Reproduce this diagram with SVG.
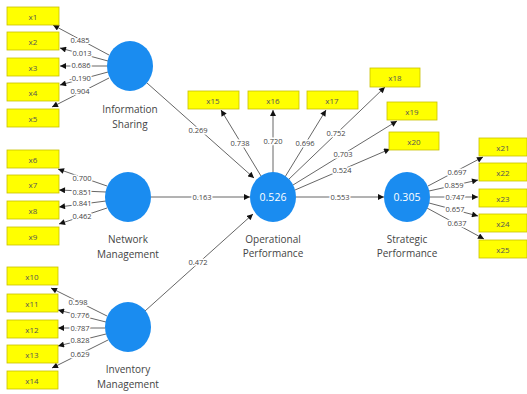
<svg xmlns="http://www.w3.org/2000/svg" width="527" height="394" viewBox="0 0 527 394">
<defs>
<style>
.box{fill:#ffff00;stroke:#c8c000;stroke-width:0.8}
.bt{font-family:"Open Sans","Noto Sans",sans-serif;font-size:8px;fill:#555;text-anchor:middle;dominant-baseline:central}
.lv{fill:#1a8cf0}
.lt{font-family:"Open Sans","Noto Sans",sans-serif;font-size:10px;fill:#444;text-anchor:middle}
.r2{font-family:"Open Sans","Noto Sans",sans-serif;font-size:10.5px;fill:#fff;text-anchor:middle;dominant-baseline:central}
.ln{stroke:#555;stroke-width:0.9;fill:none;marker-end:url(#ah)}
.wl{font-family:"Open Sans","Noto Sans",sans-serif;font-size:7.5px;fill:#444;text-anchor:middle;dominant-baseline:central;stroke:#fff;stroke-width:3;paint-order:stroke;stroke-linejoin:round}
</style>
<marker id="ah" viewBox="0 0 10 10" refX="10" refY="5" markerWidth="7" markerHeight="6" orient="auto" markerUnits="userSpaceOnUse"><path d="M0,0L10,5L0,10z" fill="#111"/></marker>
</defs>
<rect width="527" height="394" fill="#fff"/>
<g id="connectors">
<line class="ln" x1="109" y1="55" x2="53" y2="25"/>
<line class="ln" x1="108" y1="61" x2="60" y2="48"/>
<line class="ln" x1="107" y1="66" x2="60" y2="66"/>
<line class="ln" x1="108" y1="72" x2="60" y2="85"/>
<line class="ln" x1="109" y1="78" x2="52" y2="107"/>
<line class="ln" x1="107" y1="186" x2="58" y2="169"/>
<line class="ln" x1="106" y1="192" x2="59" y2="190"/>
<line class="ln" x1="106" y1="201" x2="59" y2="207"/>
<line class="ln" x1="107" y1="208" x2="59" y2="224"/>
<line class="ln" x1="107" y1="316" x2="51" y2="288"/>
<line class="ln" x1="106" y1="322" x2="58" y2="310"/>
<line class="ln" x1="105" y1="328" x2="58" y2="328"/>
<line class="ln" x1="106" y1="334" x2="58" y2="346"/>
<line class="ln" x1="108" y1="340" x2="52" y2="368"/>
<line class="ln" x1="147" y1="83" x2="254" y2="178"/>
<line class="ln" x1="151" y1="197" x2="250" y2="197"/>
<line class="ln" x1="145" y1="311" x2="253" y2="214"/>
<line class="ln" x1="296" y1="197" x2="384" y2="197"/>
<line class="ln" x1="261" y1="176" x2="221" y2="110"/>
<line class="ln" x1="273" y1="173" x2="273" y2="110"/>
<line class="ln" x1="285" y1="177" x2="326" y2="110"/>
<line class="ln" x1="288" y1="180" x2="385" y2="87"/>
<line class="ln" x1="293" y1="185" x2="397" y2="121"/>
<line class="ln" x1="295" y1="190" x2="390" y2="149"/>
<line class="ln" x1="428" y1="186" x2="483" y2="157"/>
<line class="ln" x1="429" y1="191" x2="478" y2="180"/>
<line class="ln" x1="430" y1="197" x2="478" y2="197"/>
<line class="ln" x1="429" y1="203" x2="478" y2="216"/>
<line class="ln" x1="427" y1="208" x2="484" y2="239"/>
<text class="wl" x="80" y="40">0.485</text>
<text class="wl" x="82" y="53">0.013</text>
<text class="wl" x="81" y="65">0.686</text>
<text class="wl" x="80" y="78">-0.190</text>
<text class="wl" x="80" y="91">0.904</text>
<text class="wl" x="82" y="178">0.700</text>
<text class="wl" x="82" y="192">0.851</text>
<text class="wl" x="82" y="203">0.841</text>
<text class="wl" x="82" y="216">0.462</text>
<text class="wl" x="78" y="302">0.598</text>
<text class="wl" x="80" y="315">0.776</text>
<text class="wl" x="80" y="328">0.787</text>
<text class="wl" x="80" y="340">0.828</text>
<text class="wl" x="80" y="354">0.629</text>
<text class="wl" x="198" y="130">0.269</text>
<text class="wl" x="202" y="197">0.163</text>
<text class="wl" x="198" y="262">0.472</text>
<text class="wl" x="340" y="197">0.553</text>
<text class="wl" x="240" y="143">0.738</text>
<text class="wl" x="273" y="141">0.720</text>
<text class="wl" x="305" y="143">0.696</text>
<text class="wl" x="336" y="133">0.752</text>
<text class="wl" x="343" y="154">0.703</text>
<text class="wl" x="342" y="170">0.524</text>
<text class="wl" x="457" y="172">0.697</text>
<text class="wl" x="454" y="185">0.859</text>
<text class="wl" x="455" y="197">0.747</text>
<text class="wl" x="455" y="209">0.657</text>
<text class="wl" x="457" y="223">0.637</text>
</g>
<g id="is"><ellipse class="lv" cx="130" cy="66" rx="23" ry="25"/><text class="lt" x="130" y="113">Information</text><text class="lt" x="130" y="128">Sharing</text></g>
<g id="nm"><ellipse class="lv" cx="128" cy="197" rx="23" ry="25"/><text class="lt" x="128" y="243">Network</text><text class="lt" x="128" y="258">Management</text></g>
<g id="im"><ellipse class="lv" cx="128" cy="327" rx="23" ry="25"/><text class="lt" x="128" y="373">Inventory</text><text class="lt" x="128" y="388">Management</text></g>
<g id="op"><ellipse class="lv" cx="273" cy="197" rx="23" ry="25"/><text class="r2" x="273" y="197">0.526</text><text class="lt" x="273" y="243">Operational</text><text class="lt" x="273" y="257">Performance</text></g>
<g id="sp"><ellipse class="lv" cx="407" cy="197" rx="23" ry="25"/><text class="r2" x="407" y="197">0.305</text><text class="lt" x="407" y="243">Strategic</text><text class="lt" x="407" y="257">Performance</text></g>
<g id="n-x1"><rect class="box" x="7" y="7" width="52" height="18"/><text class="bt" x="33" y="16">x1</text></g>
<g id="n-x2"><rect class="box" x="7" y="32" width="52" height="18"/><text class="bt" x="33" y="41">x2</text></g>
<g id="n-x3"><rect class="box" x="7" y="58" width="52" height="18"/><text class="bt" x="33" y="67">x3</text></g>
<g id="n-x4"><rect class="box" x="7" y="83" width="52" height="18"/><text class="bt" x="33" y="92">x4</text></g>
<g id="n-x5"><rect class="box" x="7" y="109" width="52" height="18"/><text class="bt" x="33" y="118">x5</text></g>
<g id="n-x6"><rect class="box" x="7" y="150" width="52" height="18"/><text class="bt" x="33" y="159">x6</text></g>
<g id="n-x7"><rect class="box" x="7" y="175" width="52" height="18"/><text class="bt" x="33" y="184">x7</text></g>
<g id="n-x8"><rect class="box" x="7" y="201" width="52" height="18"/><text class="bt" x="33" y="210">x8</text></g>
<g id="n-x9"><rect class="box" x="7" y="227" width="52" height="18"/><text class="bt" x="33" y="236">x9</text></g>
<g id="n-x10"><rect class="box" x="7" y="267" width="51" height="18"/><text class="bt" x="32" y="276">x10</text></g>
<g id="n-x11"><rect class="box" x="7" y="294" width="51" height="18"/><text class="bt" x="32" y="303">x11</text></g>
<g id="n-x12"><rect class="box" x="7" y="320" width="51" height="18"/><text class="bt" x="32" y="329">x12</text></g>
<g id="n-x13"><rect class="box" x="7" y="345" width="51" height="18"/><text class="bt" x="32" y="354">x13</text></g>
<g id="n-x14"><rect class="box" x="7" y="371" width="51" height="18"/><text class="bt" x="32" y="380">x14</text></g>
<g id="n-x15"><rect class="box" x="188" y="91" width="51" height="18"/><text class="bt" x="213" y="100">x15</text></g>
<g id="n-x16"><rect class="box" x="248" y="91" width="51" height="18"/><text class="bt" x="273" y="100">x16</text></g>
<g id="n-x17"><rect class="box" x="307" y="91" width="51" height="18"/><text class="bt" x="332" y="100">x17</text></g>
<g id="n-x18"><rect class="box" x="370" y="68" width="50" height="19"/><text class="bt" x="395" y="77">x18</text></g>
<g id="n-x19"><rect class="box" x="387" y="102" width="50" height="18"/><text class="bt" x="412" y="111">x19</text></g>
<g id="n-x20"><rect class="box" x="389" y="132" width="50" height="18"/><text class="bt" x="414" y="141">x20</text></g>
<g id="n-x21"><rect class="box" x="479" y="138" width="48" height="18"/><text class="bt" x="503" y="147">x21</text></g>
<g id="n-x22"><rect class="box" x="479" y="163" width="48" height="18"/><text class="bt" x="503" y="172">x22</text></g>
<g id="n-x23"><rect class="box" x="479" y="189" width="48" height="18"/><text class="bt" x="503" y="198">x23</text></g>
<g id="n-x24"><rect class="box" x="479" y="214" width="48" height="18"/><text class="bt" x="503" y="223">x24</text></g>
<g id="n-x25"><rect class="box" x="479" y="240" width="48" height="18"/><text class="bt" x="503" y="249">x25</text></g>
</svg>
